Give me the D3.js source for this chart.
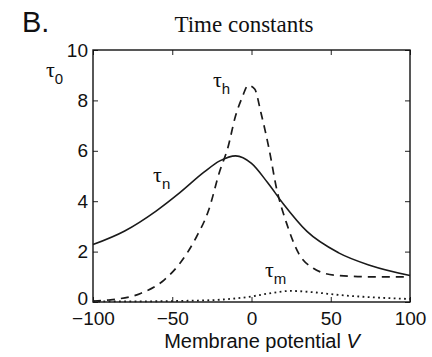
<!DOCTYPE html>
<html>
<head>
<meta charset="utf-8">
<script src="https://cdn.jsdelivr.net/npm/d3@7"></script>
<style>
  html, body { margin: 0; padding: 0; background: #fff; }
  svg { display: block; }
  .tick text { font-family: "Liberation Sans", Arial, sans-serif; font-size: 19px; fill: #111; }
</style>
</head>
<body>
<svg id="chart" width="432" height="357"></svg>
<script>
// values (membrane potential in mV, time constant)
const tauNV   = [-100, -80, -60, -45, -30, -20, -10, 0, 10, 20, 35, 55, 75, 100];
const tauN    = [2.28, 2.82, 3.62, 4.35, 5.15, 5.6, 5.8, 5.5, 4.75, 3.9, 2.8, 1.95, 1.45, 1.05];

const tauHV   = [-100, -90, -70, -55, -45, -35, -27, -20, -15, -10, -6, -2, 2, 6, 11, 16, 22, 30, 39, 52, 75, 100];
const tauH    = [0.04, 0.08, 0.34, 0.88, 1.55, 2.55, 3.65, 5.2, 6.1, 7.4, 8.1, 8.6, 8.45, 7.5, 6.1, 4.45, 3.15, 1.9, 1.34, 1.07, 1.0, 1.0];

const tauMV   = [-100, -60, -40, -20, 0, 10, 25, 40, 55, 75, 100];
const tauM    = [0.02, 0.03, 0.05, 0.09, 0.22, 0.33, 0.44, 0.38, 0.28, 0.19, 0.12];

const xTicks = [-100, -50, 0, 50, 100];
const yTicks = [0, 2, 4, 6, 8, 10];

const svg = d3.select("#chart");
const margin = {top: 50, right: 22, bottom: 55, left: 93};
const width = 432 - margin.left - margin.right;
const height = 357 - margin.top - margin.bottom;

const x = d3.scaleLinear().domain([-100, 100]).range([margin.left, margin.left + width]);
const y = d3.scaleLinear().domain([0, 10]).range([margin.top + height, margin.top]);

// axes, ticks pointing inward
svg.append("g")
    .attr("transform", `translate(0,${margin.top + height})`)
    .call(d3.axisBottom(x).tickValues(xTicks).tickSizeInner(-5).tickSizeOuter(0).tickPadding(10));
const yAxis = svg.append("g")
    .attr("transform", `translate(${margin.left},0)`)
    .call(d3.axisLeft(y).tickValues(yTicks).tickSizeInner(-5).tickSizeOuter(0).tickPadding(5));
// the 0 label sits just above the -100 label
yAxis.selectAll(".tick text").filter(d => d === 0).attr("dy", "0.12em");

svg.append("g")
    .attr("transform", `translate(0,${margin.top})`)
    .call(d3.axisTop(x).tickValues(xTicks).tickSizeInner(-5).tickSizeOuter(0).tickFormat(""));
svg.append("g")
    .attr("transform", `translate(${margin.left + width},0)`)
    .call(d3.axisRight(y).tickValues(yTicks).tickSizeInner(-5).tickSizeOuter(0).tickFormat(""));

svg.selectAll(".domain").remove();
svg.selectAll(".tick line").attr("stroke", "#222").attr("stroke-width", 1);

svg.append("rect")
    .attr("x", margin.left).attr("y", margin.top)
    .attr("width", width).attr("height", height)
    .attr("fill", "none").attr("stroke", "#111").attr("stroke-width", 1.4);

// curves
const line = d3.line()
    .x(d => x(d[0]))
    .y(d => y(d[1]))
    .curve(d3.curveMonotoneX);

const series = [
  {v: tauNV, t: tauN, dash: null, w: 1.6},
  {v: tauHV, t: tauH, dash: "8,6", w: 1.7},
  {v: tauMV, t: tauM, dash: "1.8,3.4", w: 1.8}
];

series.forEach(s => {
  svg.append("path")
      .datum(d3.zip(s.v, s.t))
      .attr("d", line)
      .attr("fill", "none")
      .attr("stroke", "#1a1a1a")
      .attr("stroke-width", s.w)
      .attr("stroke-dasharray", s.dash);
});

// curve labels
function tauLabel(px, py, sub) {
  const t = svg.append("text").attr("x", px).attr("y", py).attr("fill", "#111");
  t.append("tspan")
      .attr("font-family", "'Liberation Serif', 'Times New Roman', serif")
      .attr("font-size", 22)
      .text("τ");
  t.append("tspan")
      .attr("font-family", "'Liberation Sans', Arial, sans-serif")
      .attr("font-size", 15)
      .attr("dy", 7)
      .text(sub);
}
tauLabel(x(-100) - 47, y(10) + 27, "0");
tauLabel(x(-24.3), y(8.53), "h");
tauLabel(x(-62.1), y(4.76), "n");
tauLabel(x(8.5), y(0.99), "m");

// title, panel letter, axis label
svg.append("text")
    .attr("x", 244).attr("y", 32)
    .attr("text-anchor", "middle")
    .attr("font-family", "'Liberation Serif', 'Times New Roman', serif")
    .attr("font-size", 23)
    .attr("fill", "#111")
    .text("Time constants");

svg.append("text")
    .attr("x", 22).attr("y", 32)
    .attr("font-family", "'Liberation Sans', Arial, sans-serif")
    .attr("font-size", 29)
    .attr("fill", "#111")
    .text("B.");

const xl = svg.append("text")
    .attr("x", 262).attr("y", 348)
    .attr("text-anchor", "middle")
    .attr("font-family", "'Liberation Sans', Arial, sans-serif")
    .attr("font-size", 20)
    .attr("fill", "#111");
xl.append("tspan").text("Membrane potential ");
xl.append("tspan").attr("font-style", "italic").text("V");
</script>
</body>
</html>
